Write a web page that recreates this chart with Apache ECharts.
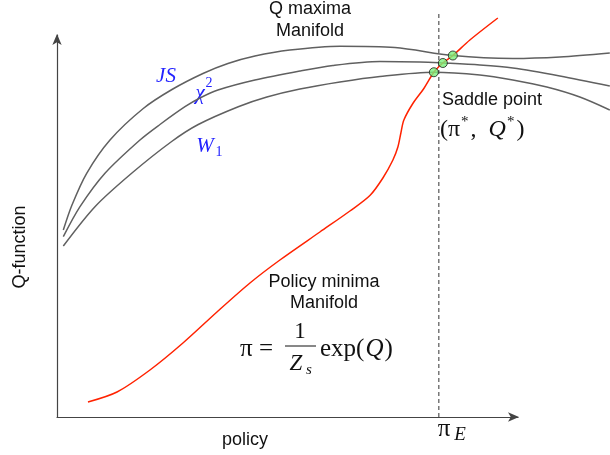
<!DOCTYPE html>
<html>
<head>
<meta charset="utf-8">
<script src="https://cdn.jsdelivr.net/npm/echarts@6/dist/echarts.min.js"></script>
<style>html,body{margin:0;padding:0;background:#fff}#c{width:610px;height:455px}</style>
</head>
<body>
<div id="c"></div>
<script>
// Q-function curves under different divergences (x: policy, y: Q)
const jsCurve = [[1.37,48.95],[3.25,55.5],[6.44,63.8],[11.5,72.51],[18.72,80.76],[24.95,85.73],[31.67,89.92],[37.09,92.54],[42.95,94.5],[50.54,96.07],[61.39,97.07],[73.32,96.73],[85.9,94.63],[98.92,93.85],[109.11,94.24],[119.96,95.29]];
const chiCurve = [[1.37,47.2],[4.99,55.05],[10.41,63.8],[18.0,72.51],[22.34,76.57],[27.77,81.23],[31.02,83.51],[34.92,85.6],[42.95,88.22],[52.71,90.58],[59.87,92.02],[70.07,93.06],[78.74,92.93],[83.73,92.67],[91.76,92.15],[98.92,91.36],[109.11,89.27],[119.96,86.65]];
const w1Curve = [[1.37,44.76],[8.24,55.05],[16.2,63.8],[24.88,72.12],[30.65,76.57],[39.33,81.23],[45.55,83.77],[52.71,85.86],[61.39,87.7],[70.07,89.14],[81.78,90.25],[91.76,89.53],[98.92,88.22],[106.29,86.39],[113.45,83.77],[119.96,80.37]];
// policy minima manifold
const policyCurve = [[6.72,3.93],[13.02,6.54],[20.17,12.3],[27.33,19.37],[34.71,27.49],[41.87,35.08],[48.37,41.1],[57.05,48.43],[63.56,53.93],[67.9,57.98],[70.72,62.57],[72.89,67.28],[73.97,70.68],[74.62,74.35],[75.27,77.75],[77.22,82.07],[79.61,86.0],[81.78,90.25],[83.73,92.67],[85.9,94.63],[89.59,98.69],[95.66,104.45]];
// saddle points
const saddlePoints = [[81.78,90.25],[83.73,92.67],[85.9,94.63]];
// expert policy
const expertLine = [[82.86,0],[82.86,106]];

const sans = '"Liberation Sans", Arial, Helvetica, sans-serif';
const serif = '"Liberation Serif", "Times New Roman", serif';
const blue = '#2222ff';

function txt(x, y, text, opts) {
  opts = opts || {};
  return {
    type: 'text', x: x, y: y, rotation: opts.rotation || 0, silent: true,
    style: Object.assign({
      text: text,
      fontSize: opts.fontSize || 18,
      fontFamily: opts.fontFamily || sans,
      fontStyle: opts.fontStyle || 'normal',
      fill: opts.fill || '#111',
      align: opts.align || 'center',
      verticalAlign: opts.verticalAlign || 'middle',
      textAlign: opts.align || 'center',
      textVerticalAlign: opts.verticalAlign || 'middle'
    }, opts.rich ? { rich: opts.rich } : {})
  };
}

const chart = echarts.init(document.getElementById('c'), null, { renderer: 'canvas' });
const gray = '#606060';
const lineStyleGray = { color: gray, width: 1.5 };
const hiddenAxis = { show: false };
const SM = 0.3;

chart.setOption({
  animation: false,
  grid: [
    { left: 57, right: 92, top: 35, bottom: 38 },
    { left: 57, right: 0, top: 35, bottom: 38 }
  ],
  xAxis: [{
    gridIndex: 0, type: 'value', min: 0, max: 100,
    axisLine: { show: true, symbol: ['none', 'arrow'], symbolSize: [7, 11], symbolOffset: [0, 1], lineStyle: { color: '#444', width: 1.2 } },
    axisTick: { show: false }, axisLabel: { show: false }, splitLine: { show: false }
  }, Object.assign({ gridIndex: 1, type: 'value', min: 0, max: 120 }, hiddenAxis)],
  yAxis: [{
    gridIndex: 0, type: 'value', min: 0, max: 100,
    axisLine: { show: true, onZero: false, symbol: ['none', 'arrow'], symbolSize: [7, 11], symbolOffset: [0, 1], lineStyle: { color: '#444', width: 1.2 } },
    axisTick: { show: false }, axisLabel: { show: false }, splitLine: { show: false }
  }, Object.assign({ gridIndex: 1, type: 'value', min: 0, max: 100 }, hiddenAxis)],
  series: [
    { type: 'line', xAxisIndex: 1, yAxisIndex: 1, data: expertLine, showSymbol: false, clip: false, lineStyle: { color: '#333', width: 1, type: [4, 3] }, z: 1 },
    { type: 'line', xAxisIndex: 1, yAxisIndex: 1, data: jsCurve, smooth: SM, showSymbol: false, clip: false, lineStyle: lineStyleGray, z: 2 },
    { type: 'line', xAxisIndex: 1, yAxisIndex: 1, data: chiCurve, smooth: SM, showSymbol: false, clip: false, lineStyle: lineStyleGray, z: 2 },
    { type: 'line', xAxisIndex: 1, yAxisIndex: 1, data: w1Curve, smooth: SM, showSymbol: false, clip: false, lineStyle: lineStyleGray, z: 2 },
    { type: 'line', xAxisIndex: 1, yAxisIndex: 1, data: policyCurve, smooth: SM, showSymbol: false, clip: false, lineStyle: { color: '#ff2200', width: 1.5 }, z: 3 },
    { type: 'scatter', xAxisIndex: 1, yAxisIndex: 1, data: saddlePoints, symbol: 'circle', symbolSize: 9, clip: false,
      itemStyle: { color: '#7cf07c', borderColor: '#1a1a1a', borderWidth: 1 }, z: 4 }
  ],
  graphic: { elements: [
    txt(310, 9, 'Q maxima'),
    txt(310, 31, 'Manifold'),
    txt(442, 100, 'Saddle point', { align: 'left' }),
    txt(440, 130, '{n|(π}{s|*}{n|,  }{i|Q}{s|*}{n|)}', { align: 'left', fontFamily: serif, fontSize: 24,
      rich: { n: { fontSize: 24, fontFamily: serif, lineHeight: 30, fill: '#111' },
              i: { fontSize: 24, fontFamily: serif, fontStyle: 'italic', lineHeight: 30, fill: '#111' },
              s: { fontSize: 15, fontFamily: serif, lineHeight: 30, verticalAlign: 'top', fill: '#111', padding: [0, 2, 0, 1] } } }),
    txt(166, 76, 'JS', { fontFamily: serif, fontStyle: 'italic', fontSize: 21, fill: blue }),
    txt(200, 93, 'χ', { fontFamily: serif, fontStyle: 'italic', fontSize: 21, fill: blue }),
    txt(209, 83, '2', { fontFamily: serif, fontSize: 14, fill: blue }),
    txt(205, 146, 'W', { fontFamily: serif, fontStyle: 'italic', fontSize: 21, fill: blue }),
    txt(219, 152, '1', { fontFamily: serif, fontSize: 14, fill: blue }),
    txt(324, 282, 'Policy minima'),
    txt(324, 303, 'Manifold'),
    txt(273, 349, 'π =', { align: 'right', fontFamily: serif, fontSize: 25 }),
    txt(300, 332, '1', { fontFamily: serif, fontSize: 23 }),
    { type: 'line', silent: true, shape: { x1: 285, y1: 346, x2: 316, y2: 346 }, style: { stroke: '#111', lineWidth: 1 } },
    txt(296, 364, 'Z', { fontFamily: serif, fontStyle: 'italic', fontSize: 23 }),
    txt(309, 370, 's', { fontFamily: serif, fontStyle: 'italic', fontSize: 15 }),
    txt(320, 349, '{n|exp(}{i|Q}{n|)}', { align: 'left', fontFamily: serif, fontSize: 25,
      rich: { n: { fontSize: 25, fontFamily: serif, fill: '#111' },
              i: { fontSize: 25, fontFamily: serif, fontStyle: 'italic', fill: '#111', padding: [0, 1, 0, 1] } } }),
    txt(245, 440, 'policy'),
    txt(20, 247, 'Q-function', { rotation: Math.PI / 2 }),
    txt(444, 429, 'π', { fontFamily: serif, fontSize: 25 }),
    txt(460, 435, 'E', { fontFamily: serif, fontStyle: 'italic', fontSize: 19 })
  ] }
});
</script>
</body>
</html>
